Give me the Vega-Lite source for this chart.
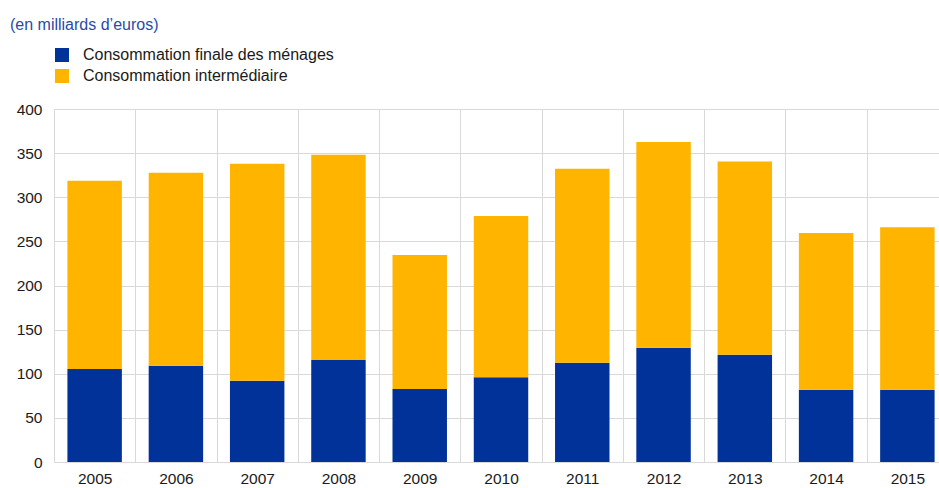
{
  "$schema": "https://vega.github.io/schema/vega-lite/v6.json",
  "autosize": "none",
  "width": 885,
  "height": 353,
  "padding": {"left": 54, "top": 109, "right": 0, "bottom": 26},
  "config": {"view": {"stroke": null}, "font": "Liberation Sans"},
  "title": {"text": "(en milliards d’euros)", "anchor": "start", "frame": "group", "dx": -44, "color": "#2a4aa8", "fontSize": 16, "fontWeight": "normal", "offset": 14},
  "data": {"values": [
    {"annee": "2005", "serie": "Consommation finale des ménages", "ordre": 1, "valeur": 105.4},
    {"annee": "2005", "serie": "Consommation intermédiaire", "ordre": 2, "valeur": 213.3},
    {"annee": "2006", "serie": "Consommation finale des ménages", "ordre": 1, "valeur": 109.1},
    {"annee": "2006", "serie": "Consommation intermédiaire", "ordre": 2, "valeur": 218.7},
    {"annee": "2007", "serie": "Consommation finale des ménages", "ordre": 1, "valeur": 92.1},
    {"annee": "2007", "serie": "Consommation intermédiaire", "ordre": 2, "valeur": 245.9},
    {"annee": "2008", "serie": "Consommation finale des ménages", "ordre": 1, "valeur": 115.6},
    {"annee": "2008", "serie": "Consommation intermédiaire", "ordre": 2, "valeur": 232.6},
    {"annee": "2009", "serie": "Consommation finale des ménages", "ordre": 1, "valeur": 82.7},
    {"annee": "2009", "serie": "Consommation intermédiaire", "ordre": 2, "valeur": 151.8},
    {"annee": "2010", "serie": "Consommation finale des ménages", "ordre": 1, "valeur": 95.9},
    {"annee": "2010", "serie": "Consommation intermédiaire", "ordre": 2, "valeur": 182.8},
    {"annee": "2011", "serie": "Consommation finale des ménages", "ordre": 1, "valeur": 112.5},
    {"annee": "2011", "serie": "Consommation intermédiaire", "ordre": 2, "valeur": 219.9},
    {"annee": "2012", "serie": "Consommation finale des ménages", "ordre": 1, "valeur": 129.5},
    {"annee": "2012", "serie": "Consommation intermédiaire", "ordre": 2, "valeur": 233.1},
    {"annee": "2013", "serie": "Consommation finale des ménages", "ordre": 1, "valeur": 121.6},
    {"annee": "2013", "serie": "Consommation intermédiaire", "ordre": 2, "valeur": 219.0},
    {"annee": "2014", "serie": "Consommation finale des ménages", "ordre": 1, "valeur": 81.9},
    {"annee": "2014", "serie": "Consommation intermédiaire", "ordre": 2, "valeur": 177.6},
    {"annee": "2015", "serie": "Consommation finale des ménages", "ordre": 1, "valeur": 81.9},
    {"annee": "2015", "serie": "Consommation intermédiaire", "ordre": 2, "valeur": 184.0}
  ]},
  "mark": {"type": "bar", "width": {"band": 0.67}},
  "encoding": {
    "x": {"field": "annee", "type": "nominal", "title": null,
      "scale": {"range": [0, 894], "paddingInner": 0, "paddingOuter": 0},
      "axis": {"labelAngle": 0, "domain": false, "ticks": false, "grid": true, "tickBand": "extent", "gridColor": "#d9d9d9", "labelFontSize": 15.5, "labelColor": "#1a1a1a", "labelPadding": 9}},
    "y": {"field": "valeur", "type": "quantitative", "stack": "zero", "title": null,
      "scale": {"domain": [0, 400], "nice": false},
      "axis": {"values": [0, 50, 100, 150, 200, 250, 300, 350, 400], "domain": false, "ticks": false, "gridColor": "#d9d9d9", "labelFontSize": 15.5, "labelColor": "#1a1a1a", "labelPadding": 12}},
    "color": {"field": "serie", "type": "nominal",
      "scale": {"domain": ["Consommation finale des ménages", "Consommation intermédiaire"], "range": ["#003299", "#ffb400"]},
      "legend": {"title": null, "orient": "none", "legendX": 0, "legendY": -62, "symbolType": "square", "symbolSize": 196, "symbolStrokeWidth": 0, "labelFontSize": 16, "labelColor": "#1a1a1a", "labelOffset": 13, "labelLimit": 500, "rowPadding": 5}},
    "order": {"field": "ordre", "type": "quantitative"}
  }
}
